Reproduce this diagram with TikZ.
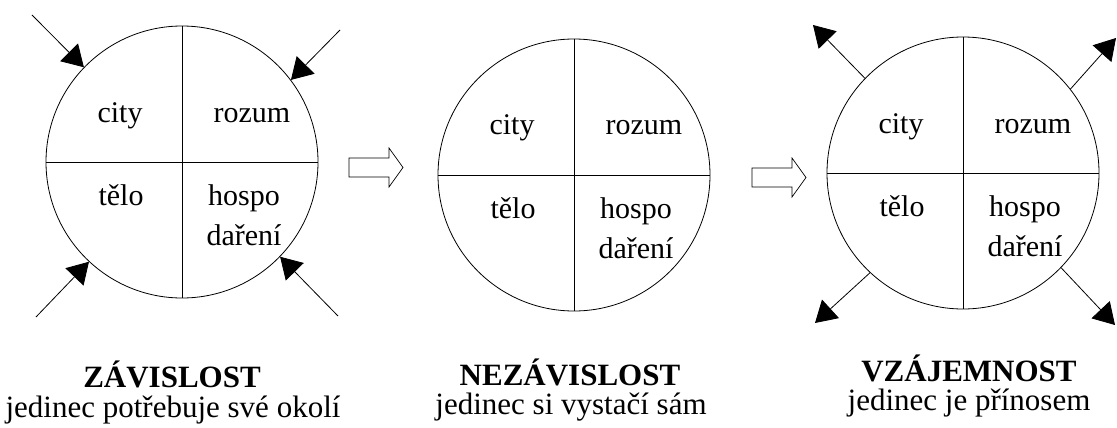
\documentclass[tikz,border=0pt]{standalone}
\usepackage{fontspec}
\setmainfont{Liberation Serif}
\usetikzlibrary{arrows.meta}

\begin{document}
\begin{tikzpicture}[
    x=1pt, y=-1pt, line width=0.8pt,
    quad/.style={circle, draw, minimum size=272pt, inner sep=0pt},
    lab/.style={font=\fontsize{30}{40}\selectfont, anchor=base, align=center},
    ttl/.style={font=\fontsize{31}{31}\selectfont\bfseries, anchor=base},
    sub/.style={font=\fontsize{31}{31}\selectfont, anchor=base},
    tri/.style={-{Triangle[length=21pt, width=25pt]}},
    blk/.style={draw, fill=white, line width=0.7pt},
]
% picture frame, one unit = one pixel, y runs down
\useasboundingbox (0,0) rectangle (1117,428);

% the three circles split into quarters
\foreach \n/\cx/\cy in {c1/182/162, c2/574/175, c3/963/173}{
    \node[quad] (\n) at (\cx,\cy) {};
    \draw (\n.north) -- (\n.south);
    \draw (\n.west) -- (\n.east);
    \node[lab] (\n-city) at (\cx-62,\cy-40) {city};
    \node[lab] (\n-rozum) at (\cx+70,\cy-40) {rozum};
    \node[lab] (\n-telo) at (\cx-61,\cy+43) {tělo};
    % base of a two-line node sits on its last line
    \node[lab] (\n-hosp) at (\cx+62,\cy+83) {hospo\\daření};
}

% arrows coming in (first circle)
\coordinate (i1) at (32,15);
\coordinate (i2) at (340,30);
\coordinate (i3) at (36,317);
\coordinate (i4) at (338,316);
\draw[tri] (i1) -- (c1.136);
\draw[tri] (i2) -- (c1.37);
\draw[tri] (i3) -- (c1.227);
\draw[tri] (i4) -- (c1.316);

% arrows going out (third circle)
\coordinate (o1) at (813,25);
\coordinate (o2) at (1116,38);
\coordinate (o3) at (815,323);
\coordinate (o4) at (1115,325);
\draw[tri] (c3.136) -- (o1);
\draw[tri] (c3.38) -- (o2);
\draw[tri] (c3.227) -- (o3);
\draw[tri] (c3.316) -- (o4);

% hollow arrows between the circles
\foreach \dx/\dy in {0/0, 403/10}
    \draw[blk, shift={(\dx,\dy)}] (349,158) -- (389,158) -- (389,148)
        -- (403,167.5) -- (389,187) -- (389,177) -- (349,177) -- cycle;

% captions
\node[ttl] (t1) at (172,387) {ZÁVISLOST};
\node[sub] (s1) at (173,417) {jedinec potřebuje své okolí};
\node[ttl] (t2) at (570,385) {NEZÁVISLOST};
\node[sub] (s2) at (571,414) {jedinec si vystačí sám};
\node[ttl] (t3) at (969,381) {VZÁJEMNOST};
\node[sub] (s3) at (969,410) {jedinec je přínosem};

\end{tikzpicture}
\end{document}
